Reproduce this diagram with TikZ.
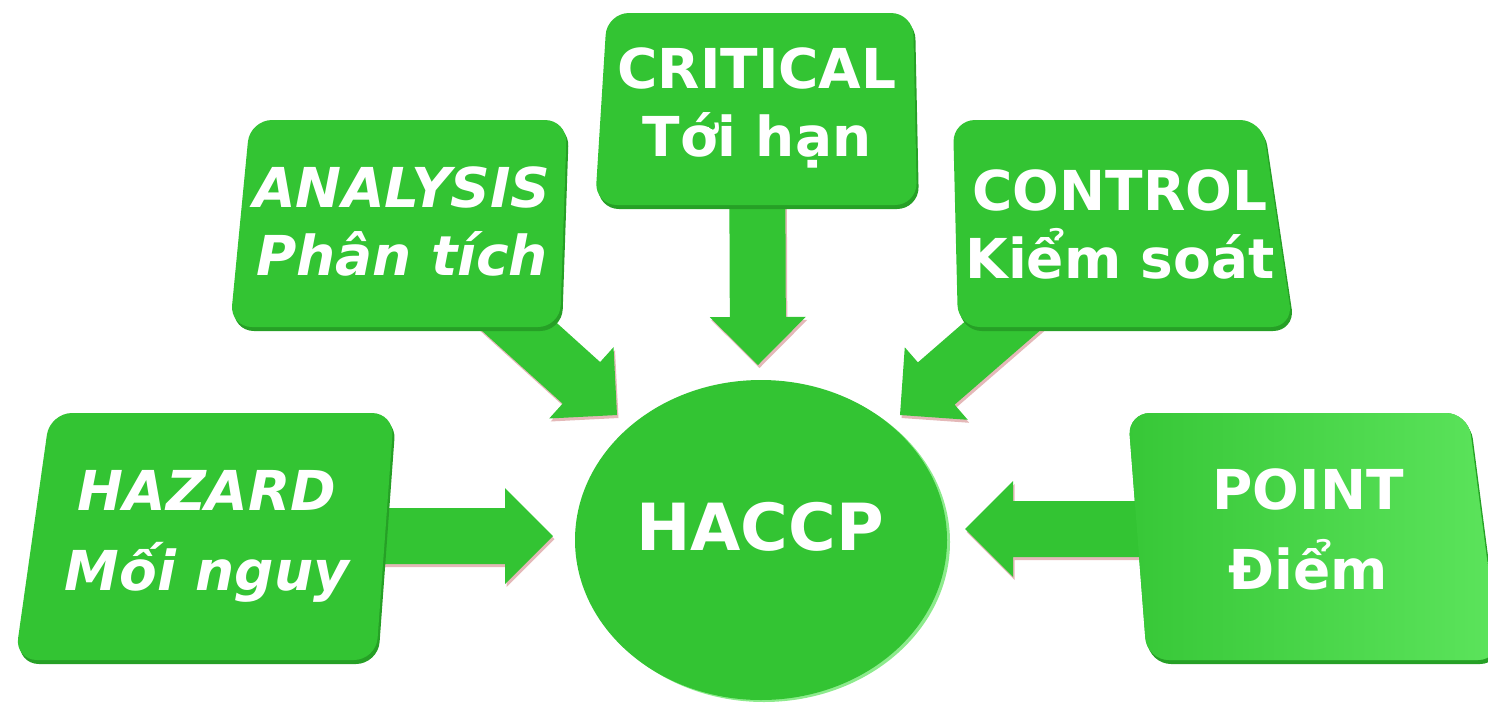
\documentclass[tikz,border=0pt]{standalone}
\usepackage{fontspec}
\setmainfont{DejaVu Sans}
\usetikzlibrary{calc, backgrounds}

\definecolor{boxgreen}{RGB}{51,196,51}
\definecolor{rimgreen}{RGB}{38,160,38}
\definecolor{lightgreen}{RGB}{92,228,92}
\definecolor{edgegreen}{RGB}{140,235,140}
\definecolor{arrowpink}{RGB}{228,184,184}

\newcommand{\boxfont}{\bfseries\fontsize{55}{68}\selectfont}

% fat block arrow from node #1 to coordinate #2
\newcommand{\fatarrow}[2]{%
  \coordinate (fa-h) at ($(#2)!48pt!(#1)$);
  \foreach \col/\dx/\dy in {arrowpink/1.5/3, boxgreen/0/0}
    \fill[\col, transform canvas={shift={(\dx,\dy)}}]
      ($(#1)!28pt!90:(#2)$) -- ($(fa-h)!28pt!90:(#2)$) -- ($(fa-h)!48pt!90:(#2)$) -- (#2)
      -- ($(fa-h)!48pt!-90:(#2)$) -- ($(fa-h)!28pt!-90:(#2)$) -- ($(#1)!28pt!-90:(#2)$) -- cycle;
}

\begin{document}
\begin{tikzpicture}[x=1pt, y=-1pt,
    panel/.style={fill=boxgreen, rounded corners=22pt},
    rim/.style={fill=rimgreen, rounded corners=22pt, transform canvas={shift={(2,4)}}},
    boxtext/.style={text=white, inner sep=0pt, align=center, font=\boxfont},
    slanted/.style={font=\boxfont\itshape},
    hubtext/.style={text=white, inner sep=0pt, font=\bfseries\fontsize{65}{70}\selectfont}]

   \useasboundingbox (0,0) rectangle (1488,702);

   \node[boxtext, slanted] (hazard)   at (207,536)  {HAZARD\\[12pt]Mối nguy};
   \node[boxtext, slanted] (analysis) at (402,221)  {ANALYSIS\\Phân tích};
   \node[boxtext]          (critical) at (757,108)  {CRITICAL\\Tới hạn};
   \node[boxtext]          (control)  at (1120,224) {CONTROL\\Kiểm soát};
   \node[boxtext]          (point)    at (1308,529) {POINT\\[12pt]Điểm};
   \node[hubtext]          (haccp)    at (760,527)  {HACCP};

   \coordinate (tip-h) at (553,536);
   \coordinate (tip-a) at (617,415);
   \coordinate (tip-c) at (758,365);
   \coordinate (tip-k) at (900,415);
   \coordinate (tip-p) at (965,529);

   \begin{scope}[on background layer]
     \fatarrow{hazard}{tip-h}
     \fatarrow{analysis}{tip-a}
     \fatarrow{critical}{tip-c}
     \fatarrow{control}{tip-k}
     \fatarrow{point}{tip-p}

     % the five panels, slightly skewed
     \foreach \sty in {rim, panel} {
       \fill[\sty] (50,413) -- (394,413) -- (376,660) -- (15,660) -- cycle;
       \fill[\sty] (250,120) -- (567,120) -- (560,327) -- (230,327) -- cycle;
       \fill[\sty] (607,13) -- (913,13) -- (917,205) -- (595,205) -- cycle;
       \fill[\sty] (953,120) -- (1262,120) -- (1293,327) -- (958,327) -- cycle;
     }
     \fill[rim] (1128,413) -- (1468,413) -- (1500,660) -- (1147,660) -- cycle;
     \fill[panel, left color=boxgreen!90!lightgreen, right color=lightgreen]
       (1128,413) -- (1468,413) -- (1500,660) -- (1147,660) -- cycle;

     \fill[edgegreen] (764,542) ellipse [x radius=186, y radius=160];
     \fill[boxgreen] (761,540) ellipse [x radius=186, y radius=160];
   \end{scope}

\end{tikzpicture}
\end{document}
